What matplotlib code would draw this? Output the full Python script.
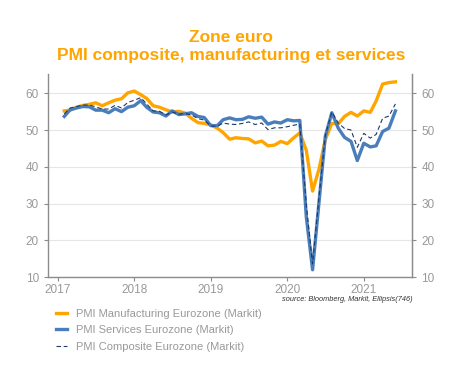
import matplotlib
matplotlib.use("Agg")
import matplotlib.pyplot as plt
import numpy as np
import pandas as pd

dates = pd.date_range("2017-01-31", "2021-05-31", freq="ME")

manufacturing = [55.2, 55.4, 56.2, 56.7, 57.0, 57.4, 56.6, 57.4, 58.1, 58.5, 60.1, 60.6,
                 59.6, 58.6, 56.6, 56.2, 55.5, 54.9, 55.1, 54.6, 53.2, 52.0, 51.8, 51.4,
                 50.5, 49.3, 47.5, 47.9, 47.7, 47.6, 46.5, 47.0, 45.7, 45.9, 46.9, 46.3,
                 47.9, 49.2, 44.5, 33.4, 39.4, 47.4, 51.8, 51.7, 53.7, 54.8, 53.8, 55.2,
                 54.8, 57.9, 62.5, 62.9, 63.1]
services = [53.7, 55.5, 56.0, 56.4, 56.3, 55.4, 55.4, 54.7, 55.8, 55.0, 56.2, 56.6,
            58.0, 56.2, 54.9, 54.7, 53.8, 55.2, 54.2, 54.4, 54.7, 53.7, 53.4, 51.2,
            51.2, 52.8, 53.3, 52.8, 52.9, 53.6, 53.2, 53.5, 51.6, 52.2, 51.9, 52.8,
            52.5, 52.6, 26.4, 12.0, 30.5, 48.3, 54.7, 50.5, 48.0, 46.9, 41.7, 46.4,
            45.4, 45.7, 49.6, 50.5, 55.2]
composite = [54.4, 56.0, 56.4, 56.8, 56.8, 56.3, 55.7, 55.7, 56.7, 56.0, 57.5, 58.1,
             58.8, 57.1, 55.2, 55.1, 54.1, 54.9, 54.3, 54.5, 54.1, 53.1, 52.7, 51.1,
             51.0, 51.9, 51.6, 51.5, 51.8, 52.2, 51.5, 51.9, 50.1, 50.6, 50.6, 50.9,
             51.3, 51.6, 29.7, 13.6, 31.9, 48.5, 54.9, 51.9, 50.4, 50.0, 45.3, 49.1,
             47.8, 48.8, 53.2, 53.8, 57.1]

series_labels = ["PMI Manufacturing Eurozone (Markit)",
                 "PMI Services Eurozone (Markit)",
                 "PMI Composite Eurozone (Markit)"]
year_ticks = [2017, 2018, 2019, 2020, 2021]
y_ticks = [10, 20, 30, 40, 50, 60]

plt.rcParams['font.family'] = ['Liberation Sans', 'DejaVu Sans']

def to_year(d):
    start = pd.Timestamp(year=d.year, month=1, day=1)
    end = pd.Timestamp(year=d.year + 1, month=1, day=1)
    return d.year + (d - start) / (end - start)

x = np.array([to_year(d) for d in dates])

fig = plt.figure(figsize=(4.49, 3.86), dpi=100)
ax = fig.add_axes([0.107, 0.282, 0.811, 0.526])

orange = "#FFA500"
blue = "#4A7EBB"
navy = "#1F3864"
gray = "#999999"
spine = "#8C8C8C"

l1, = ax.plot(x, manufacturing, color=orange, lw=2.4)
l2, = ax.plot(x, services, color=blue, lw=2.4)
l3, = ax.plot(x, composite, color=navy, lw=0.8, ls=(0, (4, 2.5)))

ax.set_xlim(2016.87, 2021.63)
ax.set_ylim(10, 65.2)
ax.set_yticks(y_ticks)
ax.set_xticks(year_ticks)
ax.set_xticklabels([str(y) for y in year_ticks])
ax.grid(axis='y', color='#E6E6E6', lw=0.8)
ax.set_axisbelow(True)
ax.spines['top'].set_visible(False)
for s in ['left', 'right', 'bottom']:
    ax.spines[s].set_color(spine)
    ax.spines[s].set_linewidth(1.0)
ax.tick_params(axis='both', colors=spine, labelcolor=gray, labelsize=8.5, length=3)
ax.tick_params(axis='x', pad=2)

ax2 = ax.twinx()
ax2.set_ylim(ax.get_ylim())
ax2.set_yticks(y_ticks)
for s in ['top', 'left', 'bottom']:
    ax2.spines[s].set_visible(False)
ax2.spines['right'].set_color(spine)
ax2.tick_params(axis='y', colors=spine, labelcolor=gray, labelsize=8.5, length=3)

fig.text(0.515, 0.903, "Zone euro", ha='center', va='center', color=orange,
         fontsize=12.5, fontweight='bold')
fig.text(0.515, 0.856, "PMI composite, manufacturing et services", ha='center',
         va='center', color=orange, fontsize=12.5, fontweight='bold')

fig.text(0.918, 0.224, "source: Bloomberg, Markit, Ellipsis(746)", ha='right',
         va='center', fontsize=5.3, style='italic', color='#333333')

leg = fig.legend([l1, l2, l3], series_labels, loc='upper left',
                 bbox_to_anchor=(0.117, 0.209), frameon=False, fontsize=8,
                 handlelength=1.0, labelspacing=0.6, handletextpad=0.8,
                 borderaxespad=0, borderpad=0.3)
for t in leg.get_texts():
    t.set_color(gray)

fig.savefig("out.png", dpi=100)
